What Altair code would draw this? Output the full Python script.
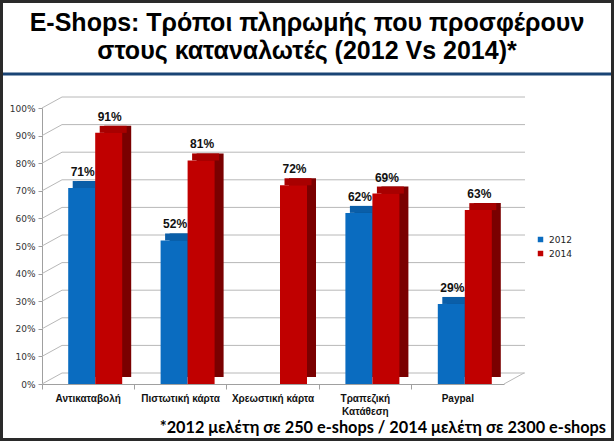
import altair as alt
import pandas as pd

categories = ["Αντικαταβολή", "Πιστωτική κάρτα", "Χρεωστική κάρτα", "Τραπεζική Κατάθεση", "Paypal"]
v2012 = [0.71, 0.52, None, 0.62, 0.29]
v2014 = [0.91, 0.81, 0.72, 0.69, 0.63]
years = ["2012", "2014"]
ticks = [0.0, 0.1, 0.2, 0.3, 0.4, 0.5, 0.6, 0.7, 0.8, 0.9, 1.0]
title_lines = ["E-Shops: Τρόποι πληρωμής που προσφέρουν", "στους καταναλωτές (2012 Vs 2014)*"]
footnote = "*2012 μελέτη σε 250 e-shops / 2014 μελέτη σε 2300 e-shops"

rows = []
for c, a, b in zip(categories, v2012, v2014):
    if a is not None:
        rows.append({"cat": c, "year": "2012", "v": a})
    rows.append({"cat": c, "year": "2014", "v": b})
df = pd.DataFrame(rows)
df["lbl"] = (df["v"] * 100).round().astype(int).astype(str) + "%"

W, H = 462, 276
DX, DY = 20, -11
BW = 27
SX, SY = 9, -7
shift = {"2012": -BW / 2 + 7, "2014": BW / 2 + 7}
front_c = {"2012": "#0a6cc0", "2014": "#c00000"}
top_c = {"2012": "#0a5ea8", "2014": "#a80000"}
side_c = {"2012": "#064a85", "2014": "#7a0000"}

xsc = alt.Scale(domain=categories, paddingInner=0.0, paddingOuter=0.0)
ysc = alt.Scale(domain=[0, 1])
front = alt.Scale(domain=years, range=[front_c[y] for y in years])

xaxis = alt.Axis(title=None, labelFont="Liberation Sans", labelFontWeight="bold", labelFontSize=10,
                 labelColor="#111", labelPadding=4, tickSize=5, tickColor="#a0a0a0", labelAngle=0,
                 domainColor="#a0a0a0", bandPosition=0, labelBound=False,
                 labelExpr="datum.label == 'Τραπεζική Κατάθεση' ? ['Τραπεζική', 'Κατάθεση'] : datum.label",
                 labelLineHeight=13, labelBaseline="top", labelAlign="center")
yaxis = alt.Axis(title=None, format=".0%", values=ticks, grid=False, labelFont="DejaVu Sans",
                 labelFontSize=9, labelColor="#333", tickSize=4, tickColor="#a0a0a0",
                 domainColor="#a0a0a0", labelPadding=3)

X = alt.X("cat:N", scale=xsc, axis=xaxis, sort=categories)
Yv = alt.Y("v:Q", scale=ysc, axis=yaxis)
Yt = alt.Y("t:Q", scale=ysc, axis=yaxis)

tickdf = pd.DataFrame({"t": ticks})
slant = alt.Chart(tickdf).mark_rule(color="#b8b8b8", strokeWidth=1, y2Offset=DY).encode(
    x=alt.value(0), x2=alt.value(DX), y=Yt, y2="t:Q")
back = alt.Chart(tickdf).mark_rule(color="#b8b8b8", strokeWidth=1, yOffset=DY).encode(
    x=alt.value(DX), x2=alt.value(W + DX + 1), y=Yt)
floor_side = alt.Chart(tickdf).transform_filter("datum.t == 0").mark_rule(
    color="#b8b8b8", strokeWidth=1, y2Offset=DY).encode(
    x=alt.value(W), x2=alt.value(W + DX), y=Yt, y2="t:Q")

base = alt.Chart(df)
bar_layers = []
for yr in years:
    d = base.transform_filter(alt.datum.year == yr)
    off = shift[yr]
    side = d.mark_bar(width=BW, xOffset=off + SX, yOffset=SY, y2Offset=SY, color=side_c[yr]).encode(
        x=X, y=Yv, y2=alt.datum(0))
    top = d.mark_bar(width=BW, xOffset=off + SX / 2, yOffset=SY, y2Offset=0, color=top_c[yr]).encode(
        x=X, y=Yv, y2="v:Q")
    fr = d.mark_bar(width=BW, xOffset=off).encode(
        x=X, y=Yv,
        color=alt.Color("year:N", scale=front, title=None,
                        legend=alt.Legend(orient="none", legendX=494, legendY=127, symbolType="square",
                                          symbolSize=30, labelFont="DejaVu Sans", labelFontSize=9,
                                          labelColor="#222", rowPadding=4, symbolStrokeWidth=0)))
    lab = d.mark_text(font="Liberation Sans", fontWeight="bold", fontSize=12, baseline="bottom",
                      dx=off + 1, dy=-9, color="#111").encode(x=X, y=Yv, text="lbl:N")
    bar_layers += [side, top, fr, lab]

one = pd.DataFrame({"a": [0]})
title = alt.Chart(one).mark_text(text=title_lines, font="Liberation Sans", fontWeight="bold",
                                 fontSize=25, lineHeight=28, align="center", baseline="alphabetic",
                                 color="#000").encode(x=alt.value(307 - 42), y=alt.value(31 - 108))
note = alt.Chart(one).mark_text(text=footnote, font="Lato", fontWeight="bold", fontSize=16.3,
                                align="right", baseline="alphabetic", color="#000").encode(
    x=alt.value(606 - 42), y=alt.value(433 - 108))
blue_line = alt.Chart(one).mark_rule(color="#1a4475", strokeWidth=3).encode(
    x=alt.value(-42), x2=alt.value(614 - 42), y=alt.value(74 - 108))
frame = alt.Chart(one).mark_rect(fill=None, stroke="#2a2a2a", strokeWidth=3).encode(
    x=alt.value(-42 + 1.5), x2=alt.value(614 - 42 - 1.5), y=alt.value(-108 + 1.5), y2=alt.value(441 - 108 - 1.5))

chart = alt.layer(slant, back, floor_side, *bar_layers, title, note, blue_line, frame).properties(
    width=W, height=H,
    autosize=alt.AutoSizeParams(type="none"),
    padding={"left": 42, "top": 108, "right": 614 - 42 - W, "bottom": 441 - 108 - H},
    background="white",
).configure_view(stroke=None)

chart.save("out.html", embed_options={"renderer": "svg", "actions": False})
